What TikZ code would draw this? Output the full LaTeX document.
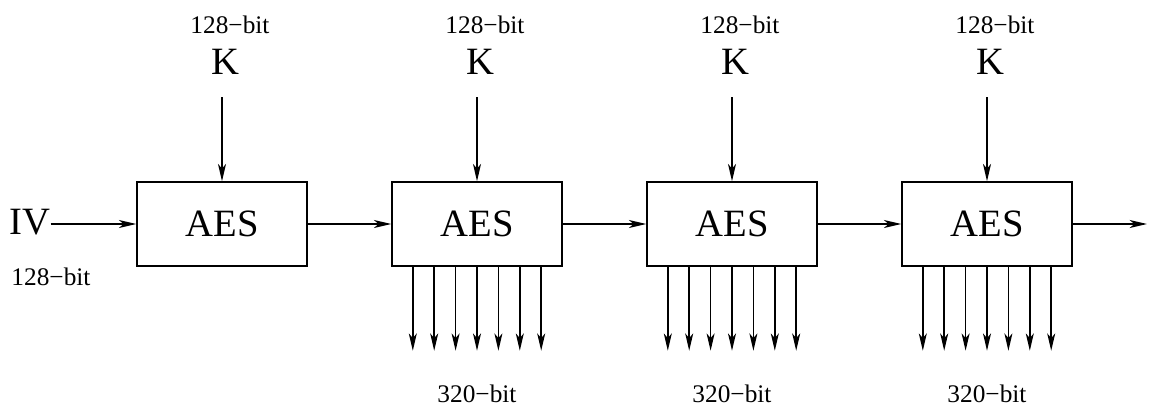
\documentclass[tikz,border=0pt]{standalone}
\usepackage{fontspec}
\setmainfont{Liberation Serif}
\usetikzlibrary{arrows.meta}

\begin{document}
\begin{tikzpicture}[
    x=0.75pt, y=-0.75pt,
    block/.style={rectangle, draw, line width=1.1pt, minimum width=127.5pt, minimum height=63pt, font=\fontsize{29}{33}\selectfont},
    big/.style={font=\fontsize{29}{33}\selectfont, inner sep=0pt},
    small/.style={font=\fontsize{19}{22}\selectfont, inner sep=0pt},
    arrow/.style={-{Stealth[length=13pt, width=6pt, inset=3.5pt]}, line width=1.1pt}
]
    \useasboundingbox (0,0) rectangle (1149,407);

    \node[big] (iv) at (30,222) {IV};
    \node[small] (ivbits) at (51,277) {128−bit};

    \foreach \i/\x in {1/222, 2/477, 3/732, 4/987} {
        \node[block] (aes\i) at (\x,224) {AES};
        \node[big] (key\i) at (\x+3,62) {K};
        \node[small] (kbits\i) at (\x+8,25) {128−bit};
        \coordinate (ktop\i) at (\x,97);
        \draw[arrow] (ktop\i) -- (aes\i);
    }

    \draw[arrow] (iv.east |- aes1) -- (aes1);
    \foreach \i/\j in {1/2, 2/3, 3/4}
        \draw[arrow] (aes\i) -- (aes\j);
    \coordinate (out) at (1147,224);
    \draw[arrow] (aes4) -- (out);

    \foreach \i/\x in {2/477, 3/732, 4/987} {
        \foreach \k in {-3,...,3} {
            \path ([xshift=\k*16.05pt]aes\i.south) coordinate (foot\i\k) ++(0,84) coordinate (tip\i\k);
            \draw[arrow] (foot\i\k) -- (tip\i\k);
        }
        \node[small] (obits\i) at (\x,394) {320−bit};
    }
\end{tikzpicture}
\end{document}
